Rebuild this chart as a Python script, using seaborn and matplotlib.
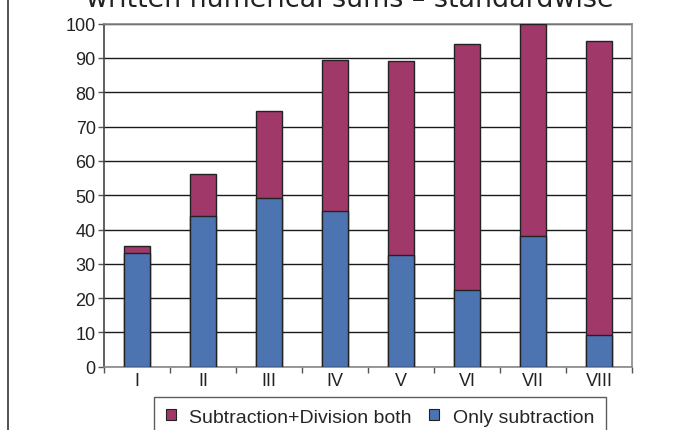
import numpy as np
import pandas as pd
import seaborn as sns
import matplotlib.pyplot as plt
from matplotlib.lines import Line2D
from matplotlib.patches import Patch
from matplotlib.ticker import MultipleLocator

# --- DATA ---
standards = ["I", "II", "III", "IV", "V", "VI", "VII", "VIII"]
only_subtraction = [33.2, 43.8, 49.2, 45.4, 32.7, 22.5, 38.0, 9.3]
both_ops = [2.1, 12.3, 25.3, 44.0, 56.3, 71.7, 62.0, 85.8]

BLUE = "#4c74b0"
MAROON = "#a0386a"
EDGE = "#222222"

totals = [a + b for a, b in zip(only_subtraction, both_ops)]
df = pd.DataFrame({"Standard": standards,
                   "Only": only_subtraction,
                   "Total": totals})

sns.set_theme(style="white")
plt.rcParams["font.family"] = ["Liberation Sans", "DejaVu Sans"]

fig = plt.figure(figsize=(6.97, 4.31), dpi=100)
ax = fig.add_axes([104 / 697, 1 - 367.7 / 431, 528 / 697, 343 / 431])

# stacked bars: total in maroon underneath, blue part drawn over it
sns.barplot(data=df, x="Standard", y="Total", color=MAROON, width=0.4,
            edgecolor=EDGE, linewidth=1, saturation=1, ax=ax, zorder=3)
sns.barplot(data=df, x="Standard", y="Only", color=BLUE, width=0.4,
            edgecolor=EDGE, linewidth=1, saturation=1, ax=ax, zorder=4)

ax.set_xlim(-0.5, len(standards) - 0.5)
ax.set_ylim(0, 100)
ax.yaxis.set_major_locator(MultipleLocator(10))
ax.set_xlabel("")
ax.set_ylabel("")
ax.grid(axis="y", color="#1a1a1a", linewidth=1, zorder=1)
ax.set_axisbelow(True)

# ticks at category boundaries on x, outward on y
ax.set_xticks(np.arange(-0.5, len(standards)), minor=True)
ax.tick_params(axis="x", which="major", length=0, labelsize=13,
               colors="#222222", pad=4)
ax.tick_params(axis="x", which="minor", length=4, width=1,
               color="#555555", bottom=True, direction="out")
ax.tick_params(axis="y", length=4, width=1, color="#555555", left=True,
               direction="out", labelsize=13, labelcolor="#222222", pad=2)

for side in ["top", "right", "bottom"]:
    ax.spines[side].set_color("#888888")
    ax.spines[side].set_linewidth(1.2)
ax.spines["left"].set_color("#444444")
ax.spines["left"].set_linewidth(1.2)

# title partially cut off at the top of the frame
fig.text(0.502, 1 - 7 / 431, "written numerical sums \u2013 standardwise",
         ha="center", va="baseline", fontsize=19.4, color="#222222",
         family=["DejaVu Sans"])

# legend box at the bottom (runs past the lower edge, as in the original)
handles = [Patch(facecolor=MAROON, edgecolor=EDGE, linewidth=0.8),
           Patch(facecolor=BLUE, edgecolor=EDGE, linewidth=0.8)]
leg = fig.legend(handles, ["Subtraction+Division both", "Only subtraction"],
                 loc="upper center", bbox_to_anchor=(380 / 697, 1 - 398 / 431),
                 ncol=2, fontsize=14, frameon=True, fancybox=False,
                 handlelength=0.5, handleheight=0.5, handletextpad=0.7,
                 columnspacing=0.9, borderpad=0.6, borderaxespad=0)
leg.get_frame().set_edgecolor("#333333")
leg.get_frame().set_linewidth(1)

# left border of the chart frame
fig.add_artist(Line2D([8 / 697, 8 / 697], [0, 1], transform=fig.transFigure,
                      color="#333333", linewidth=1.2))

fig.savefig("out.png", dpi=100, facecolor="white")
